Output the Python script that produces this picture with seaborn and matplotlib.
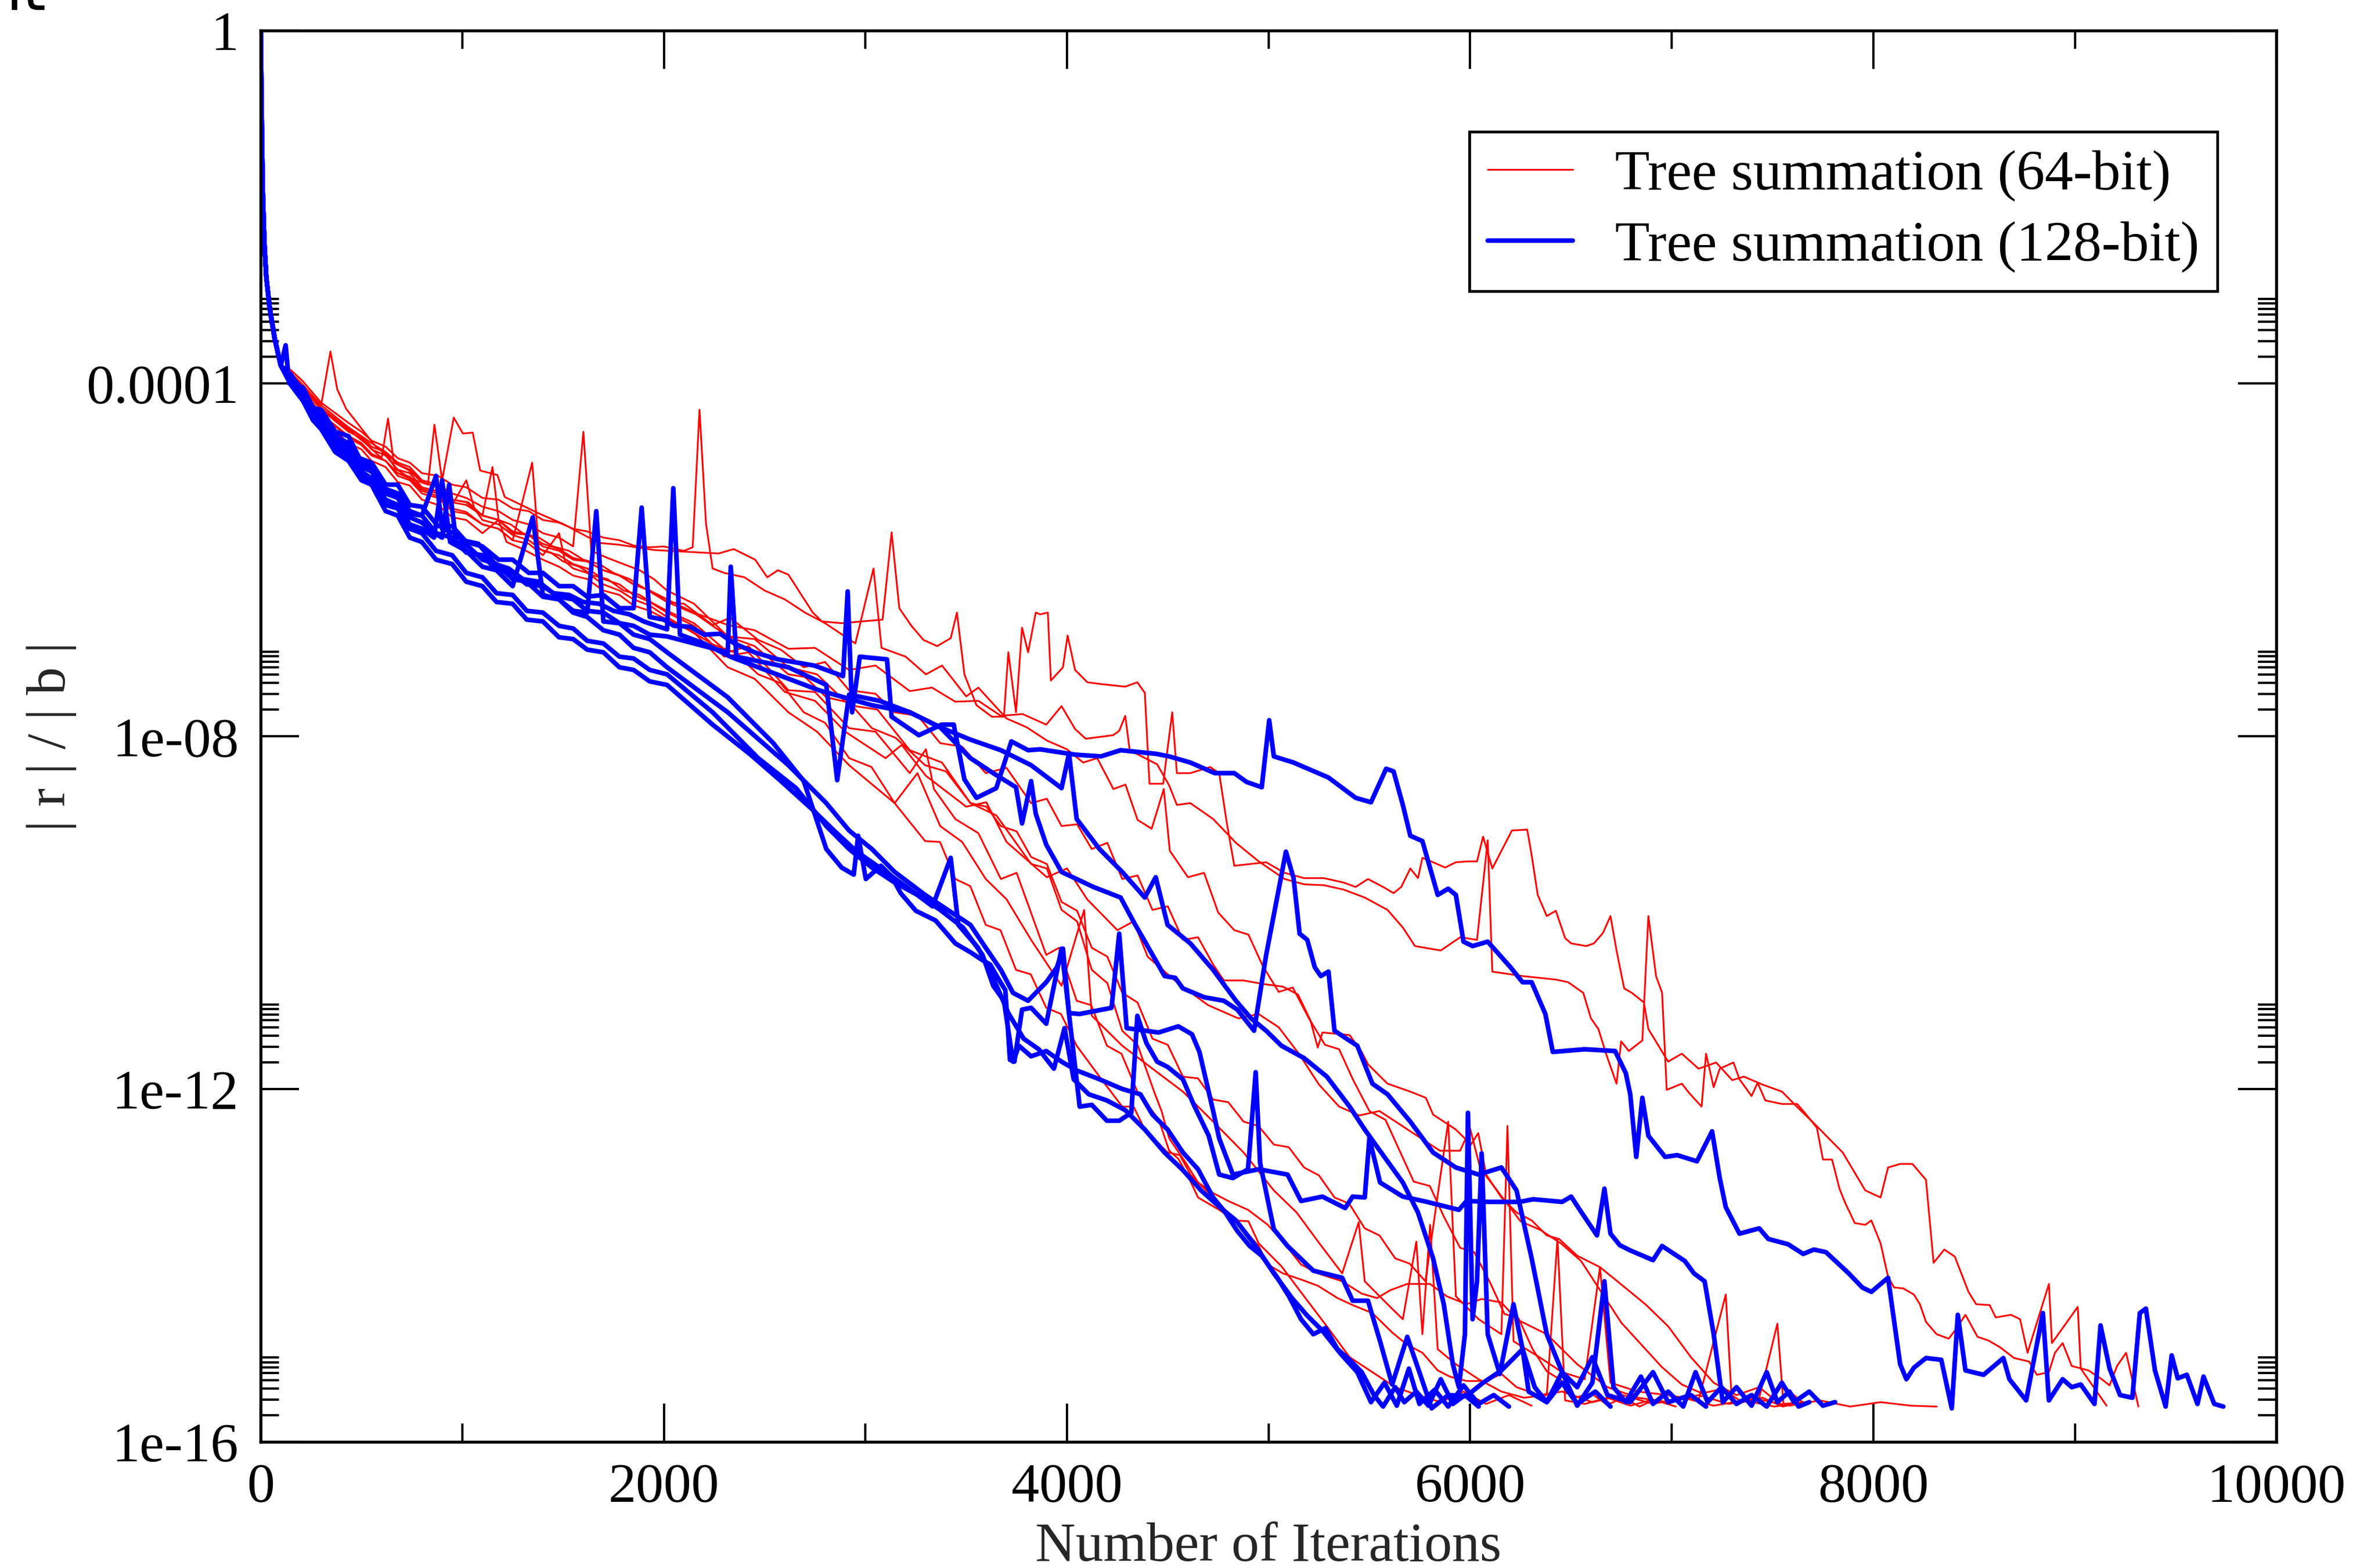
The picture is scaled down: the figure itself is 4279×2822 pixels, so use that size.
import matplotlib
matplotlib.use("Agg")
import matplotlib.pyplot as plt
from matplotlib.lines import Line2D
from matplotlib.ticker import FixedLocator, NullFormatter
import pandas as pd
import seaborn as sns

# Residual histories |r|/|b| per run: (iteration, log10 residual).
# Every run starts from the same initial drop.
HEAD = [(0, 0.0), (5, -1.0), (10, -1.8), (18, -2.4), (28, -2.8), (45, -3.15), (70, -3.5), (100, -3.8)]

# ---- 64-bit tree summation runs ----
RA = [(150,-3.88),(210,-4.02),(300,-4.25),(346,-3.64),(380,-4.07),(424,-4.29),(523,-4.58),(572,-4.72),(634,-4.83),(669,-4.97),(745,-5.08),(794,-5.12),(830,-5.15),(862,-4.47),(900,-5.1),(958,-4.39),(1003,-4.57),(1052,-4.56),(1089,-4.99),(1174,-5.04),(1211,-5.29),(1384,-5.48),(1505,-5.60),(1678,-5.81),(1776,-5.83),(1949,-5.89),(2107,-5.91),(2272,-5.93),(2347,-5.88),(2453,-6.0),(2513,-6.2),(2566,-6.12),(2618,-6.17),(2739,-6.6),(2784,-6.70),(2882,-6.72),(3085,-6.68),(3130,-5.69),(3168,-6.55),(3228,-6.75),(3288,-6.91),(3356,-6.98),(3423,-6.89),(3454,-6.60),(3491,-7.30),(3551,-7.65),(3627,-7.78),(3687,-7.78),(3709,-7.05),(3747,-7.73),(3777,-6.77),(3807,-7.05),(3845,-6.60),(3867,-6.62),(3905,-6.60),(3920,-7.37),(3980,-7.22),(4003,-6.86),(4040,-7.25),(4101,-7.39),(4168,-7.41),(4289,-7.44),(4349,-7.39),(4386,-7.51),(4409,-8.54),(4477,-8.54),(4522,-7.73),(4545,-8.42),(4612,-8.42),(4710,-8.35),(4755,-8.42),(4793,-8.99),(4830,-9.47),(4988,-9.43),(5079,-9.55),(5176,-9.61),(5274,-9.61),(5372,-9.66),(5432,-9.71),(5493,-9.62),(5568,-9.71),(5620,-9.78),(5658,-9.71),(5703,-9.50),(5741,-9.61),(5763,-9.38),(5816,-9.43),(5876,-9.49),(5929,-9.43),(5989,-9.42),(6034,-9.42),(6064,-9.14),(6110,-9.50),(6207,-9.07),(6283,-9.06),(6305,-9.35),(6335,-9.80),(6380,-10.04),(6425,-9.98),(6471,-10.29),(6501,-10.35),(6576,-10.38),(6614,-10.35),(6659,-10.23),(6696,-10.04),(6726,-10.43),(6764,-10.86),(6802,-10.91),(6862,-11.02),(6884,-11.32),(6982,-11.69),(7050,-11.6),(7133,-11.77),(7220,-11.7),(7300,-11.9),(7358,-11.86),(7450,-11.95),(7547,-12.03),(7620,-12.2),(7697,-12.37),(7848,-12.72),(7960,-13.15),(8036,-13.23),(8073,-12.89),(8133,-12.85),(8194,-12.85),(8261,-13.03),(8299,-13.97),(8352,-13.82),(8404,-13.90),(8472,-14.30),(8510,-14.44),(8577,-14.45),(8607,-14.59),(8683,-14.56),(8728,-14.61),(8765,-14.99),(8871,-14.21),(8886,-14.88),(9014,-14.47),(9029,-15.17),(9157,-15.59)]
RB = [(150,-3.92),(210,-4.05),(300,-4.3),(420,-4.5),(520,-4.68),(600,-4.85),(632,-4.4),(660,-4.9),(730,-4.98),(800,-5.12),(880,-5.18),(950,-5.32),(1030,-5.35),(1100,-5.5),(1180,-5.55),(1250,-5.7),(1330,-5.72),(1400,-5.85),(1480,-5.9),(1550,-6.0),(1620,-6.02),(1700,-6.12),(1780,-6.18),(1850,-6.28),(1930,-6.35),(2016,-6.45),(2150,-6.6),(2317,-6.74),(2450,-6.8),(2618,-7.01),(2750,-7.0),(2919,-7.25),(3050,-7.2),(3220,-7.49),(3330,-7.45),(3446,-7.61),(3560,-7.6),(3672,-7.77),(3780,-7.75),(3897,-7.87),(3973,-7.66),(4040,-7.92),(4093,-8.03),(4229,-7.99),(4259,-7.94),(4289,-7.77),(4311,-8.16),(4447,-8.32),(4507,-8.56),(4545,-8.78),(4612,-8.76),(4725,-8.94),(4838,-9.21),(4951,-9.42),(5079,-9.62),(5176,-9.68),(5274,-9.69),(5372,-9.74),(5477,-9.83),(5590,-9.97),(5666,-10.17),(5726,-10.38),(5854,-10.43),(5951,-10.28),(6034,-10.31),(6087,-9.18),(6110,-10.67),(6260,-10.72),(6425,-10.76),(6486,-10.79),(6561,-10.91),(6599,-11.20),(6636,-11.32),(6674,-11.60),(6726,-11.94),(6749,-11.46),(6787,-11.57),(6854,-11.45),(6884,-10.04),(6922,-10.72),(6952,-10.91),(6975,-12.01),(7050,-11.94),(7088,-12.05),(7148,-12.20),(7170,-11.60),(7208,-11.98),(7238,-11.77),(7306,-11.70),(7336,-11.89),(7396,-12.08),(7426,-11.93),(7464,-12.13),(7547,-12.17),(7622,-12.17),(7660,-12.27),(7720,-12.44),(7750,-12.80),(7795,-12.80),(7832,-13.13),(7862,-13.30),(7908,-13.52),(7960,-13.54),(7990,-13.49),(8036,-13.75),(8073,-14.13),(8103,-14.25),(8148,-14.26),(8201,-14.33),(8231,-14.44),(8261,-14.64),(8314,-14.78),(8374,-14.83),(8404,-14.74),(8457,-14.56),(8517,-14.81),(8570,-14.85),(8630,-14.93),(8698,-15.05),(8773,-15.09),(8811,-15.24),(8871,-15.21),(8901,-14.99),(8939,-14.88),(8984,-15.14),(9067,-15.19),(9127,-15.28),(9172,-15.36),(9209,-15.14),(9254,-14.99),(9315,-15.60)]
RC = [(150,-3.95),(210,-4.06),(300,-4.3),(436,-4.55),(500,-4.62),(550,-4.75),(620,-4.82),(680,-4.98),(740,-5.02),(800,-5.18),(870,-5.22),(950,-5.35),(1020,-5.38),(1100,-5.5),(1150,-4.95),(1180,-5.55),(1240,-5.6),(1300,-5.7),(1380,-5.75),(1450,-5.85),(1530,-5.9),(1600,-6.0),(1680,-6.05),(1750,-6.15),(1830,-6.22),(1900,-6.32),(2016,-6.48),(2100,-6.5),(2242,-6.74),(2330,-6.66),(2468,-6.91),(2580,-7.02),(2694,-7.22),(2800,-7.16),(2919,-7.48),(3050,-7.52),(3145,-7.73),(3260,-7.77),(3371,-8.08),(3480,-8.12),(3597,-8.42),(3700,-8.36),(3822,-8.76),(3900,-8.71),(3973,-9.02),(4050,-9.0),(4123,-9.28),(4200,-9.21),(4274,-9.62),(4350,-9.58),(4424,-9.97),(4500,-9.93),(4575,-10.31),(4650,-10.28),(4725,-10.59),(4778,-10.77),(4875,-10.77),(4973,-10.81),(5071,-10.84),(5146,-10.93),(5207,-11.22),(5244,-11.53),(5267,-11.36),(5365,-11.38),(5402,-11.39),(5462,-11.58),(5493,-11.72),(5590,-11.94),(5703,-12.03),(5780,-12.1),(5816,-12.29),(5929,-12.46),(6004,-12.63),(6040,-12.5),(6079,-12.97),(6155,-13.23),(6230,-13.40),(6305,-13.49),(6380,-13.66),(6441,-13.70),(6531,-13.89),(6644,-14.02),(6757,-14.23),(6869,-14.44),(6982,-14.69),(7095,-15.04),(7208,-15.33),(7321,-15.47),(7434,-15.38),(7524,-15.55),(7584,-15.43),(7660,-15.57)]
RD = [(150,-3.97),(210,-4.1),(300,-4.35),(436,-4.62),(500,-4.7),(550,-4.82),(620,-4.88),(680,-5.05),(740,-5.1),(800,-5.25),(880,-5.3),(950,-5.45),(1020,-5.48),(1100,-5.6),(1180,-5.65),(1250,-5.78),(1347,-4.9),(1380,-5.88),(1440,-5.92),(1500,-6.02),(1580,-6.08),(1650,-6.18),(1720,-6.22),(1800,-6.35),(1880,-6.4),(1950,-6.5),(2016,-6.58),(2150,-6.72),(2317,-7.05),(2420,-6.98),(2618,-7.48),(2750,-7.5),(2919,-7.91),(3050,-7.95),(3220,-8.42),(3300,-8.15),(3340,-8.6),(3446,-8.94),(3560,-9.1),(3672,-9.62),(3750,-9.55),(3897,-10.48),(3960,-10.4),(4048,-11.00),(4120,-11.05),(4198,-11.51),(4270,-11.6),(4349,-12.03),(4454,-12.34),(4507,-12.70),(4552,-12.79),(4605,-13.01),(4650,-13.23),(4755,-13.37),(4800,-13.44),(4876,-13.59),(4951,-13.78),(4996,-13.99),(5071,-14.09),(5161,-14.16),(5244,-14.23),(5342,-14.37),(5417,-14.45),(5515,-14.54),(5613,-14.76),(5688,-14.90),(5763,-14.99),(5839,-15.19),(5899,-15.26),(5982,-15.31),(6079,-15.31),(6155,-15.23),(6230,-15.38),(6343,-15.47),(6456,-15.43),(6606,-15.55),(6757,-15.47),(6907,-15.57),(7057,-15.50),(7208,-15.59),(7358,-15.53),(7509,-15.60),(7660,-15.55)]
RE = [(150,-3.9),(210,-4.03),(300,-4.25),(436,-4.5),(500,-4.6),(550,-4.68),(620,-4.78),(680,-4.9),(740,-4.95),(800,-5.1),(880,-5.15),(950,-5.25),(1020,-5.3),(1100,-5.4),(1180,-5.45),(1250,-5.55),(1330,-5.6),(1400,-5.7),(1480,-5.75),(1550,-5.85),(1601,-4.55),(1640,-5.9),(1720,-5.98),(1800,-6.05),(1880,-6.12),(1950,-6.22),(2016,-6.35),(2150,-6.5),(2317,-6.87),(2450,-6.9),(2618,-7.22),(2760,-7.3),(2919,-7.65),(3060,-7.7),(3220,-8.16),(3380,-8.3),(3521,-8.76),(3650,-8.9),(3822,-9.45),(3900,-9.5),(3973,-9.97),(4050,-10.1),(4123,-10.65),(4200,-10.8),(4274,-11.34),(4350,-11.5),(4432,-12.03),(4469,-12.25),(4507,-12.56),(4590,-12.84),(4650,-13.06),(4725,-13.18),(4800,-13.27),(4898,-13.37),(4996,-13.54),(5071,-13.73),(5161,-13.99),(5244,-14.09),(5365,-14.18),(5462,-14.32),(5538,-14.37),(5605,-14.28),(5688,-14.21),(5801,-14.21),(5884,-14.35),(5982,-14.44),(6057,-14.38),(6155,-14.42),(6230,-14.61),(6380,-14.78),(6531,-15.12),(6681,-15.38),(6832,-15.50),(6982,-15.55),(7133,-15.47),(7283,-15.57),(7434,-15.52),(7584,-15.59),(7735,-15.53),(7885,-15.60),(8036,-15.55),(8186,-15.59),(8314,-15.60)]
RF = [(150,-4.0),(210,-4.12),(300,-4.4),(436,-4.68),(500,-4.75),(550,-4.88),(620,-4.95),(680,-5.12),(740,-5.16),(800,-5.32),(880,-5.38),(950,-5.52),(1020,-5.55),(1100,-5.7),(1180,-5.55),(1220,-5.8),(1300,-5.88),(1400,-6.0),(1480,-6.08),(1550,-6.18),(1620,-6.22),(1700,-6.35),(1780,-6.4),(1850,-6.52),(1930,-6.58),(2016,-6.68),(2130,-6.8),(2242,-6.96),(2350,-7.05),(2468,-7.30),(2580,-7.4),(2694,-7.73),(2800,-7.85),(2919,-8.25),(3030,-8.35),(3145,-8.76),(3296,-9.19),(3370,-9.2),(3446,-9.62),(3520,-9.7),(3597,-10.14),(3670,-10.2),(3747,-10.65),(3820,-10.7),(3897,-11.08),(3970,-11.15),(4048,-11.51),(4161,-11.86),(4274,-12.20),(4330,-12.2),(4386,-12.46),(4499,-12.72),(4560,-12.75),(4612,-12.97),(4725,-13.23),(4838,-13.49),(4900,-13.5),(4951,-13.75),(5064,-14.01),(5176,-14.35),(5289,-14.69),(5402,-15.04),(5515,-15.21),(5628,-15.38),(5741,-15.47),(5854,-15.55),(5967,-15.43),(6079,-15.57),(6192,-15.47),(6305,-15.59)]
RG = [(150,-3.93),(210,-4.08),(300,-4.35),(436,-4.6),(500,-4.68),(550,-4.8),(620,-4.88),(680,-5.02),(740,-5.08),(800,-5.22),(880,-5.28),(950,-5.42),(1020,-5.46),(1100,-5.6),(1180,-5.65),(1250,-5.78),(1330,-5.82),(1400,-5.95),(1480,-5.7),(1510,-6.02),(1550,-6.1),(1620,-6.15),(1700,-6.28),(1780,-6.35),(1850,-6.45),(1930,-6.52),(2016,-6.65),(2160,-6.85),(2317,-7.22),(2450,-7.35),(2618,-7.73),(2760,-7.95),(2919,-8.33),(3145,-8.76),(3258,-8.42),(3371,-9.02),(3480,-9.2),(3597,-9.62),(3700,-9.85),(3822,-10.31),(3973,-10.83),(4085,-9.97),(4123,-11.17),(4274,-11.51),(4424,-11.77),(4575,-12.03),(4725,-12.37),(4876,-12.72),(5026,-13.15),(5139,-13.40),(5252,-13.75),(5365,-14.09),(5447,-13.51),(5477,-14.18),(5590,-14.44),(5666,-14.61),(5733,-13.73),(5763,-14.78),(5801,-13.54),(5839,-14.95),(5929,-15.12),(6042,-15.29),(6155,-15.43),(6267,-15.50),(6380,-15.47),(6433,-13.70),(6471,-15.53),(6568,-15.57),(6681,-15.50),(6794,-15.59),(6907,-15.52),(7020,-15.60)]
RH = [(150,-3.9),(210,-4.04),(300,-4.28),(436,-4.52),(500,-4.6),(550,-4.72),(620,-4.78),(680,-4.92),(740,-4.98),(800,-5.12),(880,-5.18),(950,-5.32),(1020,-5.35),(1100,-5.5),(1180,-5.55),(1250,-5.68),(1330,-5.72),(1400,-5.82),(1480,-5.88),(1550,-5.98),(1620,-6.02),(1700,-6.12),(1780,-6.18),(1850,-6.28),(1930,-6.35),(2016,-6.48),(2160,-6.62),(2317,-6.87),(2450,-6.98),(2618,-7.30),(2700,-7.33),(2806,-7.56),(2920,-7.62),(3032,-7.91),(3150,-8.02),(3296,-8.33),(3400,-8.4),(3521,-8.76),(3600,-8.8),(3672,-9.02),(3750,-9.08),(3822,-9.37),(3900,-9.45),(3973,-9.88),(4050,-9.98),(4123,-10.40),(4200,-10.5),(4274,-10.91),(4350,-11.02),(4424,-11.43),(4500,-11.5),(4575,-11.86),(4650,-11.88),(4725,-12.12),(4800,-12.15),(4876,-12.37),(4950,-12.42),(5026,-12.63),(5100,-12.66),(5176,-12.89),(5250,-12.98),(5327,-13.23),(5400,-13.3),(5477,-13.58),(5550,-13.66),(5628,-13.92),(5700,-13.98),(5778,-14.18),(5891,-12.37),(5929,-14.35),(6042,-14.61),(6155,-14.78),(6185,-12.42),(6215,-14.86),(6343,-15.04),(6456,-15.21),(6568,-15.29),(6644,-14.02),(6696,-15.33),(6832,-15.43),(6982,-15.47),(7133,-15.53),(7268,-14.33),(7298,-15.55),(7434,-15.50),(7524,-14.66),(7554,-15.57),(7660,-15.55)]
RI = [(150,-3.85),(210,-3.98),(300,-4.22),(436,-4.45),(500,-4.55),(550,-4.65),(620,-4.72),(680,-4.85),(740,-4.9),(800,-5.02),(880,-5.05),(950,-5.15),(1020,-5.18),(1100,-5.3),(1180,-5.32),(1250,-5.42),(1330,-5.45),(1400,-5.55),(1480,-5.58),(1550,-5.65),(1620,-5.68),(1700,-5.75),(1780,-5.78),(1850,-5.84),(1930,-5.86),(2000,-5.85),(2100,-5.9),(2143,-5.86),(2177,-4.30),(2209,-5.59),(2242,-6.1),(2300,-6.15),(2400,-6.2),(2500,-6.35),(2600,-6.45),(2700,-6.6),(2800,-6.72),(2950,-6.95),(3040,-6.10),(3080,-7.0),(3200,-7.1),(3300,-7.3),(3380,-7.2),(3500,-7.55),(3560,-7.45),(3700,-7.8),(3800,-7.9),(3900,-8.05),(4000,-8.15),(4080,-8.3),(4150,-8.25),(4230,-8.6),(4290,-8.55),(4350,-8.95),(4420,-9.05),(4480,-8.6),(4510,-9.3),(4600,-9.6),(4680,-9.55),(4750,-10.0),(4830,-10.2),(4900,-10.25),(4970,-10.6),(5050,-10.9),(5120,-10.85),(5200,-11.2),(5280,-11.5),(5350,-11.55),(5420,-11.9),(5500,-12.25),(5580,-12.35),(5650,-12.7),(5720,-13.05),(5800,-13.1),(5870,-13.45),(5950,-13.8),(6020,-13.85),(6100,-14.2),(6170,-14.55),(6240,-14.6),(6310,-14.95),(6380,-15.2),(6450,-15.3),(6520,-15.5),(6600,-15.45),(6680,-15.58),(6760,-15.5),(6840,-15.6),(6887,-15.55)]
RJ = [(150,-3.95),(210,-4.08),(300,-4.35),(436,-4.6),(500,-4.68),(550,-4.8),(620,-4.88),(680,-5.02),(740,-5.06),(800,-5.2),(880,-5.25),(950,-5.38),(1020,-5.1),(1060,-5.42),(1100,-5.55),(1180,-5.6),(1250,-5.72),(1330,-5.78),(1400,-5.9),(1480,-5.95),(1550,-6.05),(1620,-6.1),(1700,-6.22),(1780,-6.28),(1850,-6.4),(1930,-6.48),(2016,-6.6),(2150,-6.75),(2300,-7.1),(2420,-7.05),(2600,-7.5),(2750,-7.6),(2900,-7.95),(3100,-8.25),(3180,-8.1),(3300,-8.45),(3500,-8.8),(3600,-8.75),(3700,-9.2),(3900,-9.6),(4000,-9.5),(4100,-9.85),(4250,-10.2),(4330,-10.1),(4400,-10.5),(4550,-10.8),(4700,-11.05),(4850,-11.2),(4950,-11.15),(5050,-11.3),(5150,-11.6),(5250,-11.95),(5350,-12.2),(5450,-12.3),(5550,-12.25),(5650,-12.4),(5750,-12.55),(5850,-12.7),(5950,-12.7),(6000,-12.45),(6050,-12.9),(6150,-13.2),(6250,-13.5),(6350,-13.6),(6450,-13.75),(6550,-13.95),(6650,-14.3),(6750,-14.65),(6850,-14.9),(6950,-15.15),(7050,-15.35),(7150,-15.45),(7250,-15.4),(7350,-15.55),(7450,-15.5),(7550,-15.6),(7650,-15.55)]

# ---- 128-bit tree summation runs ----
B1 = [(124,-3.57),(141,-4.0),(210,-4.05),(260,-4.28),(300,-4.3),(370,-4.55),(436,-4.6),(490,-4.85),(550,-4.9),(620,-5.15),(680,-5.15),(740,-5.38),(800,-5.4),(880,-5.62),(950,-5.62),(1020,-5.8),(1100,-5.85),(1180,-6.0),(1250,-6.0),(1330,-6.15),(1400,-6.15),(1480,-6.3),(1550,-6.3),(1620,-6.42),(1700,-6.4),(1780,-6.55),(1850,-6.55),(1890,-5.41),(1930,-6.65),(2000,-6.68),(2050,-6.75),(2130,-6.76),(2200,-6.85),(2280,-6.84),(2350,-6.95),(2450,-7.05),(2566,-7.13),(2746,-7.20),(2889,-7.32),(2912,-6.36),(2934,-7.73),(2972,-7.10),(3107,-7.13),(3130,-7.78),(3265,-7.99),(3378,-7.87),(3438,-7.87),(3491,-8.49),(3551,-8.70),(3649,-8.59),(3724,-8.06),(3807,-8.16),(3867,-8.15),(4040,-8.21),(4168,-8.23),(4266,-8.16),(4439,-8.20),(4507,-8.23),(4612,-8.30),(4733,-8.42),(4830,-8.42),(4891,-8.52),(4966,-8.58),(5003,-7.82),(5026,-8.23),(5124,-8.30),(5297,-8.47),(5432,-8.70),(5508,-8.75),(5583,-8.37),(5620,-8.40),(5666,-8.78),(5703,-9.13),(5763,-9.19),(5839,-9.80),(5891,-9.73),(5929,-9.80),(5967,-10.33),(6012,-10.38),(6087,-10.33),(6200,-10.62),(6260,-10.79),(6305,-10.79),(6373,-11.15),(6410,-11.58),(6568,-11.55),(6719,-11.57),(6772,-11.82),(6794,-12.06),(6824,-12.77),(6854,-12.10),(6884,-12.53),(6967,-12.77),(7027,-12.75),(7125,-12.82),(7200,-12.48),(7238,-13.01),(7268,-13.34),(7336,-13.64),(7434,-13.58),(7479,-13.70),(7577,-13.76),(7652,-13.87),(7705,-13.82),(7765,-13.85),(7878,-14.09),(7945,-14.25),(7990,-14.30),(8073,-14.14),(8133,-15.12),(8164,-15.29),(8201,-15.16),(8261,-15.05),(8337,-15.07),(8389,-15.62),(8419,-14.56),(8457,-15.19),(8547,-15.24),(8645,-15.05),(8675,-15.29),(8758,-15.53),(8841,-14.54),(8871,-15.53),(8939,-15.29),(8984,-15.38),(9029,-15.35),(9097,-15.57),(9127,-14.68),(9172,-15.17),(9224,-15.47),(9285,-15.50),(9322,-14.54),(9352,-14.49),(9397,-15.19),(9450,-15.60),(9480,-15.02),(9510,-15.28),(9555,-15.24),(9608,-15.57),(9638,-15.26),(9691,-15.57),(9736,-15.60)]
B2 = [(150,-3.95),(210,-4.1),(260,-4.3),(300,-4.35),(370,-4.6),(436,-4.68),(500,-4.9),(550,-4.95),(620,-5.2),(680,-5.25),(740,-5.48),(800,-5.5),(870,-5.05),(900,-5.65),(960,-5.7),(1000,-5.78),(1080,-5.82),(1163,-6.05),(1230,-6.1),(1300,-6.22),(1380,-6.25),(1450,-6.38),(1530,-6.4),(1600,-6.48),(1680,-6.5),(1750,-6.58),(1830,-6.62),(1900,-6.7),(2016,-6.79),(2047,-5.19),(2080,-6.85),(2200,-6.95),(2330,-7.1),(2468,-7.22),(2769,-7.48),(3032,-7.65),(3220,-7.73),(3371,-7.90),(3521,-8.25),(3634,-8.42),(3747,-8.58),(3777,-8.99),(3822,-8.51),(3845,-8.88),(3897,-9.23),(3973,-9.54),(4131,-9.71),(4266,-9.83),(4334,-10.12),(4387,-10.33),(4484,-10.72),(4537,-10.74),(4575,-10.86),(4680,-10.96),(4778,-11.00),(4845,-11.10),(4928,-11.34),(4988,-10.48),(5086,-9.31),(5124,-9.61),(5154,-10.24),(5192,-10.31),(5229,-10.62),(5259,-10.72),(5297,-10.67),(5327,-11.34),(5440,-11.51),(5515,-11.94),(5590,-12.06),(5703,-12.37),(5816,-12.72),(5929,-12.89),(6042,-12.97),(6155,-12.89),(6230,-13.15),(6305,-13.92),(6380,-14.78),(6456,-15.21),(6531,-15.38),(6606,-15.04),(6681,-15.47),(6794,-15.55),(6907,-15.21),(6982,-15.55),(7095,-15.47),(7170,-15.60)]
B3 = [(150,-3.9),(210,-4.12),(260,-4.3),(300,-4.4),(370,-4.62),(436,-4.72),(500,-4.95),(550,-5.0),(620,-5.25),(680,-5.3),(740,-5.52),(800,-5.58),(860,-5.7),(900,-5.75),(935,-5.15),(970,-5.8),(1030,-5.85),(1100,-6.0),(1170,-6.05),(1250,-6.22),(1320,-6.25),(1400,-6.42),(1480,-6.45),(1550,-6.58),(1620,-6.6),(1665,-5.45),(1700,-6.7),(1780,-6.72),(1850,-6.85),(1930,-6.9),(2016,-7.05),(2317,-7.56),(2543,-8.08),(2694,-8.51),(2806,-9.28),(2882,-9.49),(2942,-9.57),(2964,-9.13),(3002,-9.62),(3077,-9.47),(3130,-9.59),(3175,-9.78),(3250,-9.98),(3348,-10.09),(3401,-10.23),(3446,-10.35),(3521,-10.45),(3574,-10.53),(3619,-10.59),(3657,-10.74),(3694,-10.88),(3717,-11.67),(3739,-11.69),(3777,-11.10),(3822,-11.08),(3897,-11.26),(3973,-10.41),(4010,-11.14),(4063,-11.15),(4221,-11.08),(4259,-10.24),(4296,-11.31),(4454,-11.36),(4552,-11.29),(4620,-11.38),(4657,-11.58),(4725,-12.25),(4755,-12.56),(4823,-12.97),(4951,-12.91),(5094,-12.97),(5161,-13.27),(5267,-13.22),(5380,-13.35),(5417,-13.22),(5477,-13.23),(5500,-12.56),(5553,-13.06),(5666,-13.22),(5786,-13.28),(5944,-13.37),(5982,-13.27),(6094,-13.28),(6245,-13.28),(6313,-13.25),(6456,-13.28),(6501,-13.22),(6538,-13.35),(6629,-13.66),(6666,-13.13),(6696,-13.64),(6742,-13.77),(6794,-13.83),(6907,-13.94),(6952,-13.78),(7065,-13.95),(7110,-14.09),(7163,-14.18),(7208,-14.78),(7253,-15.55),(7321,-15.38),(7396,-15.59),(7471,-15.21),(7524,-15.55),(7584,-15.43),(7629,-15.60),(7682,-15.55)]
B4 = [(150,-3.98),(210,-4.15),(260,-4.35),(300,-4.45),(370,-4.68),(436,-4.78),(500,-5.0),(550,-5.08),(620,-5.32),(680,-5.38),(740,-5.6),(800,-5.65),(860,-5.75),(900,-5.1),(940,-5.8),(1020,-5.9),(1100,-6.08),(1170,-6.12),(1250,-6.3),(1350,-5.52),(1400,-6.4),(1480,-6.45),(1550,-6.6),(1620,-6.65),(1700,-6.8),(1780,-6.85),(1850,-7.0),(1930,-7.05),(2016,-7.22),(2317,-7.73),(2618,-8.33),(2806,-8.76),(2919,-9.07),(3032,-9.28),(3145,-9.54),(3296,-9.80),(3408,-9.97),(3521,-10.14),(3597,-10.40),(3672,-10.65),(3732,-10.91),(3807,-11.00),(3897,-10.79),(3950,-10.62),(3980,-10.41),(4010,-11.15),(4063,-12.20),(4123,-12.18),(4198,-12.36),(4259,-12.36),(4319,-12.27),(4349,-11.17),(4394,-11.48),(4447,-11.69),(4499,-11.75),(4575,-11.89),(4627,-12.17),(4703,-12.53),(4755,-12.97),(4823,-13.01),(4898,-12.91),(4936,-11.81),(4958,-12.84),(5026,-13.59),(5094,-13.78),(5222,-14.06),(5365,-14.14),(5417,-14.40),(5493,-14.40),(5553,-14.86),(5613,-15.35),(5688,-14.81),(5748,-15.21),(5809,-15.62),(5891,-15.47),(5982,-15.48),(6064,-15.33),(6155,-15.19),(6260,-14.95),(6290,-15.43),(6380,-15.55),(6456,-15.33),(6531,-15.57),(6621,-15.43),(6696,-15.60)]
B5 = [(150,-4.0),(210,-4.18),(260,-4.38),(300,-4.48),(370,-4.72),(436,-4.82),(500,-5.05),(550,-5.1),(620,-5.38),(680,-5.42),(740,-5.65),(800,-5.7),(870,-5.9),(950,-5.95),(1020,-6.15),(1100,-6.2),(1170,-6.38),(1250,-6.4),(1320,-6.58),(1400,-6.6),(1480,-6.75),(1550,-6.78),(1620,-6.92),(1700,-6.95),(1780,-7.1),(1850,-7.12),(1930,-7.25),(2016,-7.30),(2242,-7.73),(2468,-8.25),(2656,-8.59),(2806,-9.02),(2919,-9.28),(3032,-9.49),(3145,-9.66),(3258,-9.80),(3371,-9.97),(3484,-10.17),(3581,-10.48),(3634,-10.83),(3687,-11.00),(3732,-11.69),(3762,-11.51),(3822,-11.63),(3897,-11.57),(3973,-11.69),(4048,-11.79),(4161,-11.89),(4274,-12.00),(4364,-12.06),(4424,-12.29),(4499,-12.46),(4575,-12.72),(4650,-12.91),(4725,-13.23),(4785,-13.40),(4845,-13.61),(4906,-13.78),(4966,-13.89),(5041,-14.13),(5101,-14.35),(5161,-14.61),(5222,-14.78),(5282,-14.71),(5342,-14.95),(5402,-15.07),(5462,-15.21),(5523,-15.47),(5568,-15.60),(5628,-15.38),(5673,-15.55),(5733,-15.43),(5793,-15.59),(5854,-15.29),(5914,-15.57),(5974,-15.47),(6042,-15.60)]
B6 = [(150,-3.92),(210,-4.08),(260,-4.28),(300,-4.35),(370,-4.6),(436,-4.7),(500,-4.92),(550,-4.98),(620,-5.2),(680,-5.25),(740,-5.45),(800,-5.5),(870,-5.7),(950,-5.75),(1020,-5.92),(1100,-5.95),(1170,-6.12),(1250,-6.15),(1320,-6.28),(1400,-6.3),(1480,-6.42),(1550,-6.45),(1620,-6.58),(1700,-6.6),(1780,-6.72),(1850,-6.75),(1930,-6.85),(2016,-6.87),(2317,-7.05),(2332,-6.08),(2360,-7.1),(2618,-7.22),(2806,-7.42),(2860,-8.5),(2919,-7.53),(3070,-7.60),(3220,-7.73),(3371,-7.90),(3521,-8.04),(3672,-8.16),(3822,-8.33),(3973,-8.59),(4010,-8.2),(4048,-8.94),(4161,-9.28),(4274,-9.54),(4386,-9.83),(4440,-9.6),(4499,-10.14),(4612,-10.35),(4725,-10.65),(4838,-11.00),(4913,-11.20),(4988,-11.34),(5064,-11.51),(5176,-11.65),(5289,-11.86),(5402,-12.20),(5477,-12.46),(5568,-12.75),(5666,-13.06),(5741,-13.40),(5816,-13.92),(5869,-14.44),(5914,-15.12),(5944,-15.38),(5974,-14.78),(5989,-12.27),(6012,-14.61),(6034,-14.18),(6057,-12.73),(6087,-14.78),(6147,-15.23),(6215,-14.44),(6260,-14.95),(6320,-15.38),(6380,-15.55),(6456,-15.21),(6531,-15.59),(6606,-15.33),(6666,-14.18),(6711,-15.38),(6772,-15.55),(6847,-15.26),(6907,-15.57),(6982,-15.43),(7057,-15.60),(7118,-15.21),(7178,-15.55),(7246,-15.38),(7321,-15.57),(7396,-15.47),(7471,-15.60),(7546,-15.33),(7607,-15.55),(7682,-15.43),(7750,-15.59),(7810,-15.55)]
B7 = [(150,-4.02),(210,-4.2),(260,-4.42),(300,-4.52),(370,-4.78),(436,-4.88),(500,-5.1),(550,-5.15),(620,-5.45),(680,-5.5),(740,-5.75),(800,-5.8),(870,-6.0),(950,-6.05),(1020,-6.25),(1100,-6.3),(1170,-6.48),(1250,-6.5),(1320,-6.68),(1400,-6.7),(1480,-6.88),(1550,-6.9),(1620,-7.02),(1700,-7.05),(1780,-7.22),(1850,-7.25),(1930,-7.38),(2016,-7.42),(2242,-7.87),(2430,-8.21),(2581,-8.51),(2731,-8.82),(2844,-9.07),(2957,-9.31),(3070,-9.49),(3205,-9.71),(3333,-9.93),(3423,-9.38),(3461,-10.14),(3559,-10.40),(3634,-10.74),(3709,-11.14),(3785,-11.43),(3860,-11.55),(3935,-11.77),(3988,-11.31),(4033,-11.89),(4108,-12.06),(4198,-12.13),(4289,-12.24),(4386,-12.46),(4484,-12.72),(4575,-12.92),(4665,-13.15),(4763,-13.35),(4838,-13.49),(4936,-13.78),(5026,-14.09),(5116,-14.37),(5192,-14.57),(5267,-14.74),(5357,-15.00),(5440,-15.21),(5508,-15.55),(5575,-15.33),(5636,-15.59),(5696,-15.17),(5748,-15.57),(5824,-15.41),(5891,-15.60),(5967,-15.36),(6042,-15.57),(6117,-15.47),(6192,-15.60)]

LABEL_64 = "Tree summation (64-bit)"
LABEL_128 = "Tree summation (128-bit)"
COLOR_64 = "#ff0000"
COLOR_128 = "#0000ff"

X_TICKS = [0, 2000, 4000, 6000, 8000, 10000]
X_TICK_LABELS = ["0", "2000", "4000", "6000", "8000", "10000"]
X_MINOR = [1000, 3000, 5000, 7000, 9000]
Y_TICKS = [1e-16, 1e-12, 1e-8, 1e-4, 1.0]
Y_TICK_LABELS = ["1e-16", "1e-12", "1e-08", "0.0001", "1"]

RUNS_64 = [RA, RB, RC, RD, RE, RF, RG, RH, RI, RJ]
RUNS_128 = [B1, B2, B3, B4, B5, B6, B7]

# Long-format table: one row per recorded iteration of each run
rows = []
for label, runs in ((LABEL_64, RUNS_64), (LABEL_128, RUNS_128)):
    for k, run in enumerate(runs):
        for it, lg in HEAD + run:
            rows.append((label, f"{label}#{k}", it, 10.0 ** lg))
df = pd.DataFrame(rows, columns=["precision", "run", "iteration", "residual"])

sns.set_theme(style="ticks")
plt.rcParams["font.family"] = ["Liberation Serif", "DejaVu Serif"]
plt.rcParams["axes.edgecolor"] = "black"
plt.rcParams["text.color"] = "black"
plt.rcParams["xtick.color"] = "black"
plt.rcParams["ytick.color"] = "black"

W, H = 4279, 2822
fig = plt.figure(figsize=((W + 0.4) / 300, (H + 0.4) / 300), dpi=300)
fig.patch.set_facecolor("white")
ax = fig.add_axes([469 / W, 1 - 2595 / H, 3627 / W, 2540 / H])
ax.set_facecolor("white")

sns.lineplot(
    data=df, x="iteration", y="residual",
    hue="precision", size="precision", units="run", estimator=None, sort=False,
    hue_order=[LABEL_64, LABEL_128], size_order=[LABEL_64, LABEL_128],
    palette={LABEL_64: COLOR_64, LABEL_128: COLOR_128},
    sizes={LABEL_64: 0.75, LABEL_128: 2.0},
    legend=False, ax=ax,
)

ax.set_yscale("log")
ax.set_xlim(0, 10000)
ax.set_ylim(1e-16, 1.0)

ax.xaxis.set_major_locator(FixedLocator(X_TICKS))
ax.set_xticklabels(X_TICK_LABELS)
ax.xaxis.set_minor_locator(FixedLocator(X_MINOR))
ax.yaxis.set_major_locator(FixedLocator(Y_TICKS))
ax.set_yticklabels(Y_TICK_LABELS)
y_minor = [m * 10.0 ** k for k in (-16, -12, -8, -4) for m in range(2, 10)]
ax.yaxis.set_minor_locator(FixedLocator(y_minor))
ax.yaxis.set_minor_formatter(NullFormatter())

ax.tick_params(which="both", direction="in", top=True, right=True, labelsize=24)
ax.tick_params(which="major", length=16.5, width=1.0)
ax.tick_params(which="minor", length=8.0, width=1.0)
ax.tick_params(axis="x", which="major", pad=9)
ax.tick_params(axis="y", which="major", pad=9.5)
for side in ("left", "right", "top", "bottom"):
    ax.spines[side].set_linewidth(1.3)
    ax.spines[side].set_color("black")
ax.grid(False)

ax.set_xlabel("Number of Iterations", fontsize=24, labelpad=4)
ax.set_ylabel("| r | / | b |", fontsize=24, labelpad=4)

handles = [Line2D([], [], color=COLOR_64, lw=0.75), Line2D([], [], color=COLOR_128, lw=2.0)]
leg = ax.legend(
    handles, [LABEL_64, LABEL_128], loc="upper right",
    bbox_to_anchor=(0.9708, 0.9283), borderaxespad=0.0,
    frameon=True, fancybox=False, shadow=False, framealpha=1.0,
    edgecolor="black", fontsize=24.5, handlelength=1.5, handletextpad=0.75,
    borderpad=0.32, labelspacing=0.34,
)
leg.get_frame().set_linewidth(1.2)

# Clipped heading fragment at the upper-left corner
fig.text(11 / W, 1 - 18 / H, "it", fontsize=26, family="DejaVu Sans", va="baseline", ha="left")

fig.savefig("out.png", dpi=300, facecolor="white")
